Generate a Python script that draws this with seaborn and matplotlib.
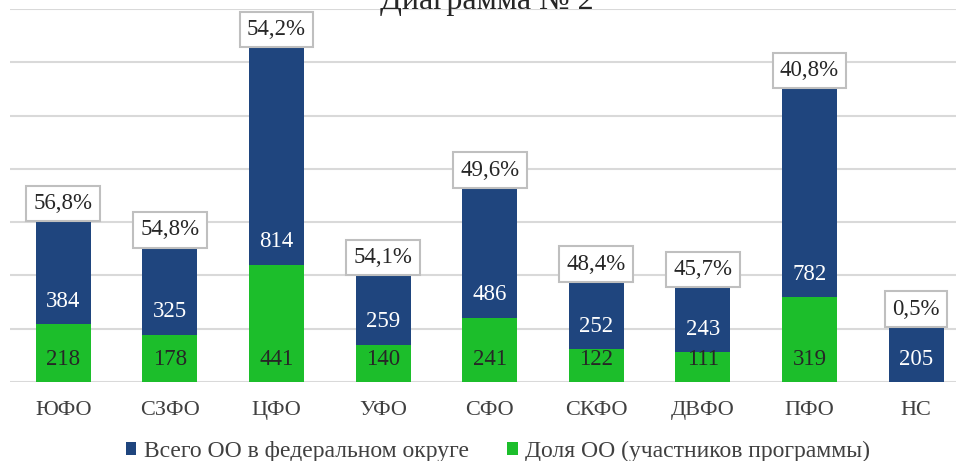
import matplotlib
matplotlib.use("Agg")
import matplotlib.pyplot as plt
from matplotlib.patches import Patch
import seaborn as sns
import pandas as pd

categories = ["ЮФО", "СЗФО", "ЦФО", "УФО", "СФО", "СКФО", "ДВФО", "ПФО", "НС"]
total_oo = [384, 325, 814, 259, 486, 252, 243, 782, 205]
share_oo = [218, 178, 441, 140, 241, 122, 111, 319, 0]
percent_labels = ["56,8%", "54,8%", "54,2%", "54,1%", "49,6%", "48,4%", "45,7%", "40,8%", "0,5%"]

title = "Диаграмма № 2"
label_total = "Всего ОО в федеральном округе"
label_share = "Доля ОО (участников программы)"

BLUE = "#1F457E"
GREEN = "#1CBE2B"

sns.set_theme(style="white")
plt.rcParams["font.family"] = ["Liberation Serif", "DejaVu Serif"]

df = pd.DataFrame({
    "cat": categories,
    "total": total_oo,
    "share": share_oo,
})
df["stack"] = df["total"] + df["share"]

fig = plt.figure(figsize=(9.56, 4.61), dpi=100)
ax = fig.add_axes([10 / 956, (461 - 382) / 461, 946 / 956, (382 - 9) / 461])

sns.barplot(data=df, x="cat", y="stack", color=BLUE, saturation=1, width=0.515,
            ax=ax, zorder=3, linewidth=0)
sns.barplot(data=df, x="cat", y="share", color=GREEN, saturation=1, width=0.515,
            ax=ax, zorder=4, linewidth=0)

ax.set_ylim(0, 1400)
ax.set_xlim(-0.5, 946 / 106.6 - 0.5)
ax.set_yticks(range(0, 1401, 200))
ax.yaxis.grid(True, color="#D9D9D9", linewidth=1.5, zorder=0)
ax.set_axisbelow(True)
ax.tick_params(axis="y", left=False, labelleft=False)
ax.tick_params(axis="x", bottom=False, labelsize=16, labelcolor="#404040", pad=8)
for s in ax.spines.values():
    s.set_visible(False)
ax.set_xlabel("")
ax.set_ylabel("")

for i in range(len(categories)):
    sh = share_oo[i]
    tot = total_oo[i]
    if sh > 0:
        ax.annotate(str(sh), xy=(i, 0), xytext=(0, 16.5), textcoords="offset points",
                    ha="center", va="center", fontsize=16.5, color="#262626", zorder=6)
    ax.annotate(str(tot), xy=(i, sh), xytext=(0, 16.5), textcoords="offset points",
                ha="center", va="center", fontsize=16.5, color="white", zorder=6)
    ax.annotate(percent_labels[i], xy=(i, sh + tot), xytext=(0, 5.5), textcoords="offset points",
                ha="center", va="bottom", fontsize=16.5, color="#262626", zorder=7,
                bbox=dict(boxstyle="square,pad=0.32", facecolor="white",
                          edgecolor="#BFBFBF", linewidth=1.5))

fig.text(487 / 956, 1 - 9 / 461, title, ha="center", va="baseline",
         fontsize=23, color="#262626")

handles = [Patch(facecolor=BLUE, edgecolor="none", label=label_total),
           Patch(facecolor=GREEN, edgecolor="none", label=label_share)]
fig.legend(handles=handles, loc="center", bbox_to_anchor=(498 / 956, 1 - 451 / 461), ncol=2,
           frameon=False, fontsize=17, handlelength=0.45, handleheight=0.45,
           handletextpad=0.3, columnspacing=1.65, labelcolor="#404040")

fig.savefig("out.png", dpi=100)
